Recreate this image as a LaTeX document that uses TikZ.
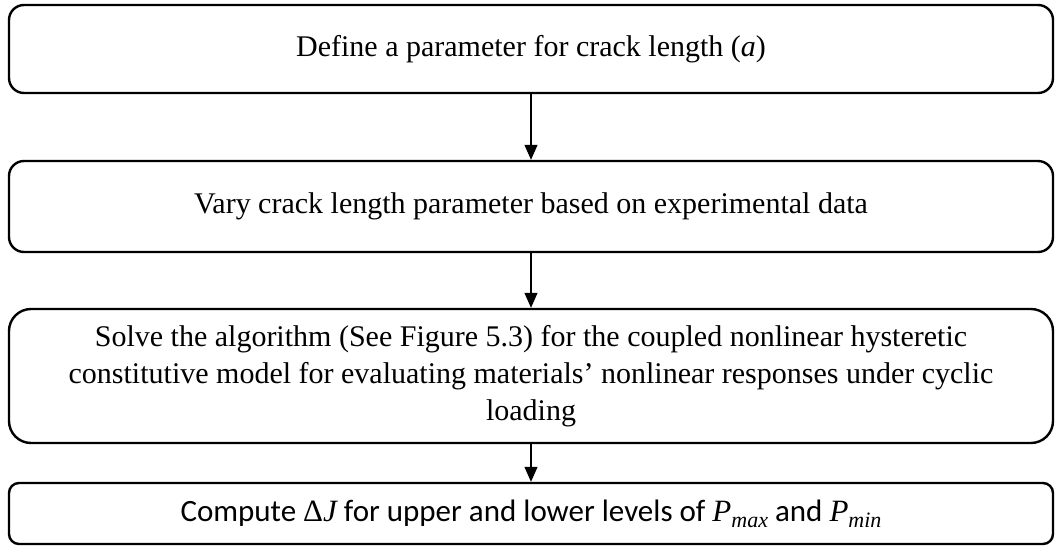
\documentclass[tikz,border=0pt]{standalone}
\usepackage{fontspec}
\setmainfont{Liberation Serif}
\newfontfamily\calibri{Carlito}
\usetikzlibrary{arrows.meta}

% italic variable letters in the serif face
\newcommand\var[1]{{\rmfamily\itshape #1}}
\newcommand\lowvar[1]{\raisebox{-0.4ex}{\fontsize{22}{22}\selectfont\var{#1}}}

\tikzset{
  stage/.style={draw, line width=2.4pt, rounded corners=15pt, minimum width=1044pt,
    inner sep=0pt, align=center, font=\fontsize{30}{37}\selectfont},
  flow/.style={line width=1.2pt, -{Triangle[length=15pt,width=13pt]}}
}

\begin{document}
\begin{tikzpicture}[x=1pt,y=-1pt]
\useasboundingbox (0,0) rectangle (1055,546);

% the four steps
\node[stage, minimum height=88pt] (define) at (531,49) {Define a parameter for crack length (\var{a})};
\node[stage, minimum height=91pt] (vary) at (531,206.5) {Vary crack length parameter based on experimental data};
\node[stage, minimum height=134pt, rounded corners=22pt] (solve) at (531,376)
  {Solve the algorithm (See Figure 5.3) for the coupled nonlinear hysteretic\\
   constitutive model for evaluating materials’ nonlinear responses under cyclic\\
   loading};
\node[stage, minimum height=61pt, rounded corners=10pt, font=\calibri\fontsize{31}{36}\selectfont] (compute) at (531,513.5)
  {Compute {\rmfamily Δ}\var{J} for upper and lower levels of \var{P}\lowvar{max} and \var{P}\lowvar{min}};

% arrows between them
\draw[flow] (define) -- (vary);
\draw[flow] (vary) -- (solve);
\draw[flow] (solve) -- (compute);

\end{tikzpicture}
\end{document}
